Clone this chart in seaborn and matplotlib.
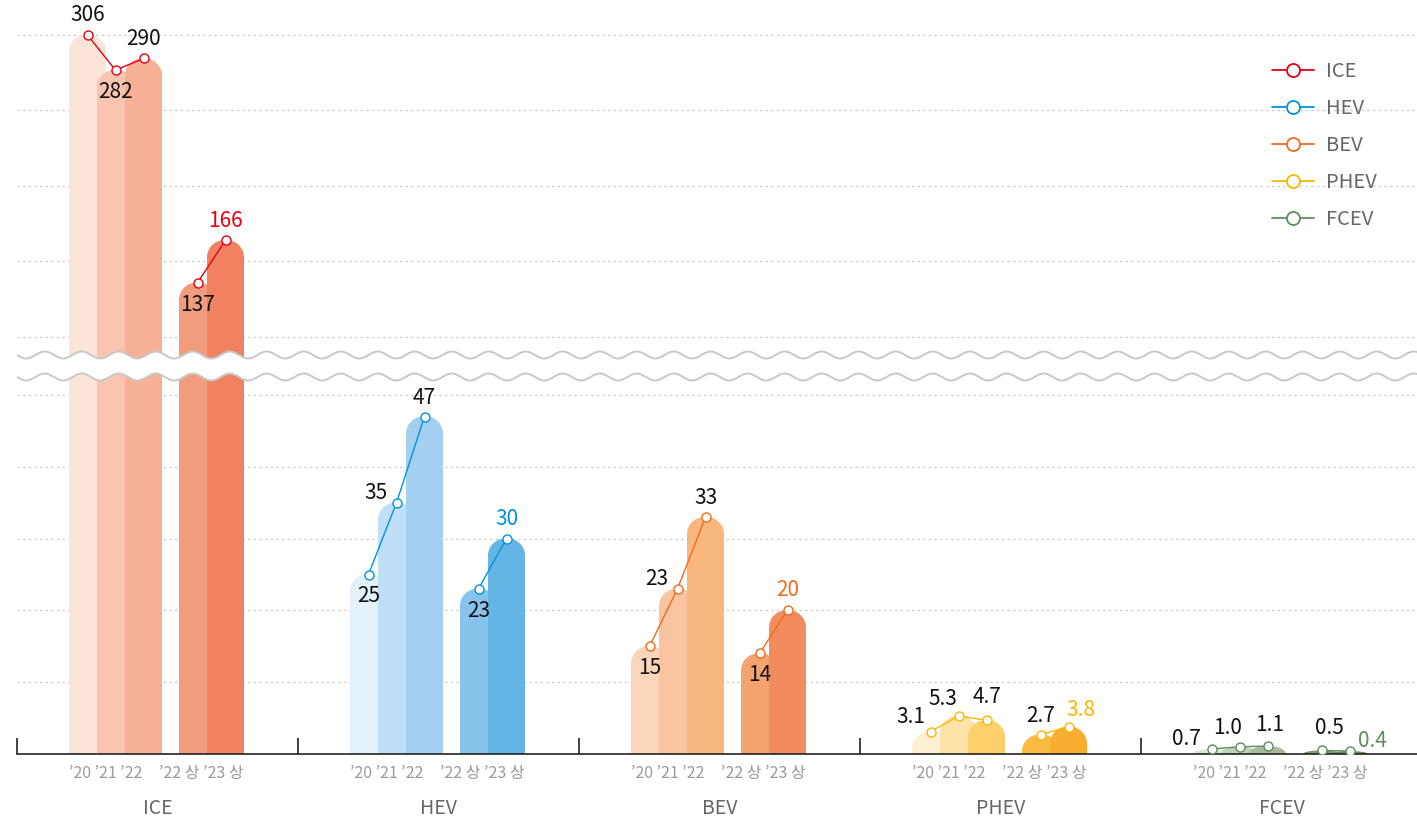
import numpy as np
import pandas as pd
import matplotlib
matplotlib.use("Agg")
import matplotlib.pyplot as plt
import seaborn as sns
from matplotlib.path import Path
from matplotlib.patches import PathPatch
from matplotlib.lines import Line2D

# ---------------- data ----------------
groups = ["ICE", "HEV", "BEV", "PHEV", "FCEV"]
periods = ["’20", "’21", "’22", "’22 상", "’23 상"]
ice = [306, 282, 290, 137, 166]
hev = [25, 35, 47, 23, 30]
bev = [15, 23, 33, 14, 20]
phev = [3.1, 5.3, 4.7, 2.7, 3.8]
fcev = [0.7, 1.0, 1.1, 0.5, 0.4]
cluster_labels = ["’20 ’21 ’22", "’22 상 ’23 상"]

# ---------------- styles ----------------
line_colors = ["#e60012", "#0095d9", "#ee6c1a", "#fbb700", "#5b8f5a"]
bar_colors = [
    ["#fde4d8", "#f9c5b0", "#f6b096", "#f29c7e", "#f08262"],
    ["#e3f1fb", "#bfdff6", "#a3cff0", "#88c3eb", "#64b4e4"],
    ["#fcd6bb", "#f9c49f", "#f8b77f", "#f5a46f", "#f28c5e"],
    ["#fdefd3", "#fde3a9", "#fdd06c", "#f9bb41", "#f7ad30"],
    ["#dfe6d9", "#c3cfba", "#a6b99b", "#7e9a72", "#6d8b61"],
]
# pixel offsets of bar centres from the group centre
bar_off_px = [-70, -42, -14, 40, 68]
# label offsets (pixels, y up) for each value label
label_off = [
    [(0, 20), (0, -22), (0, 19), (0, -22), (0, 19)],
    [(0, -22), (-21, 10), (0, 19), (0, -22), (0, 20)],
    [(0, -22), (-21, 10), (0, 19), (0, -22), (0, 20)],
    [(-20, 15), (-16, 17), (1, 23), (0, 19), (12, 17)],
    [(-25, 10), (-12, 19), (2, 21), (8, 22), (23, 10)],
]

sns.set_theme(style="white")
plt.rcParams["font.family"] = ["Noto Sans CJK KR", "DejaVu Sans"]

W, H = 1417, 826
GROUP_PX = 281
AX_LEFT, AX_W = 17, 1400
BASE_PX = 754
PX_PER_D = 7.18
BAR_W_PX = 37
R_PX = 17

# broken scale: 0-50 linear, 50-100 compressed gap, >100 compressed
GAP = 8.08
K_UP = 1.466 / PX_PER_D


def fwd(v):
    v = np.asarray(v, dtype=float)
    return np.where(v <= 50, v,
                    np.where(v <= 100, 50 + (v - 50) * GAP / 50,
                             50 + GAP + (v - 100) * K_UP))


def inv(d):
    d = np.asarray(d, dtype=float)
    return np.where(d <= 50, d,
                    np.where(d <= 50 + GAP, 50 + (d - 50) * 50 / GAP,
                             100 + (d - 50 - GAP) / K_UP))


YMAX = 326
AX_H = float(fwd(YMAX)) * PX_PER_D

fig = plt.figure(figsize=(W / 100, H / 100), dpi=100)
ax = fig.add_axes([AX_LEFT / W, (H - BASE_PX) / H, AX_W / W, AX_H / H])

series = [ice, hev, bev, phev, fcev]
rows = []
for gi, g in enumerate(groups):
    for pi, p in enumerate(periods):
        rows.append(dict(group=g, period=p, value=series[gi][pi],
                         x=gi + bar_off_px[pi] / GROUP_PX,
                         key=f"{g}|{p}", cluster=gi * 2 + (0 if pi < 3 else 1),
                         gi=gi, pi=pi))
df = pd.DataFrame(rows)
palette = {f"{g}|{p}": bar_colors[gi][pi]
           for gi, g in enumerate(groups) for pi, p in enumerate(periods)}

sns.barplot(data=df, x="x", y="value", hue="key", palette=palette,
            native_scale=True, dodge=False, orient="x", errorbar=None,
            saturation=1, legend=False, ax=ax, width=BAR_W_PX / 28)

ax.set_yscale("function", functions=(fwd, inv))
XMIN = -0.5
XMAX = -0.5 + AX_W / GROUP_PX
ax.set_xlim(XMIN, XMAX)
ax.set_ylim(0, YMAX)

# replace rectangles with rounded-top shapes (axes coordinates)
bars = []
for p in list(ax.patches):
    h = p.get_height()
    w = p.get_width()
    if not np.isfinite(h) or w <= 0:
        p.remove()
        continue
    bars.append((p.get_x() + w / 2, h, p.get_facecolor()))
    p.remove()
bars.sort(key=lambda b: b[0])

rx = R_PX / AX_W
ry_full = R_PX / AX_H
half_w = BAR_W_PX / 2 / AX_W
kk = 0.5523
for xc, h, fc in bars:
    xa = (xc - XMIN) / (XMAX - XMIN)
    x0, x1 = xa - half_w, xa + half_w
    y0 = 0.0
    y1 = float(fwd(h)) * PX_PER_D / AX_H
    ry = min(ry_full, y1 - y0)
    verts = [(x0, y0), (x0, y1 - ry),
             (x0, y1 - ry + kk * ry), (x0 + rx - kk * rx, y1), (x0 + rx, y1),
             (x1 - rx, y1),
             (x1 - rx + kk * rx, y1), (x1, y1 - ry + kk * ry), (x1, y1 - ry),
             (x1, y0), (x0, y0)]
    codes = [Path.MOVETO, Path.LINETO,
             Path.CURVE4, Path.CURVE4, Path.CURVE4,
             Path.LINETO,
             Path.CURVE4, Path.CURVE4, Path.CURVE4,
             Path.LINETO, Path.CLOSEPOLY]
    ax.add_patch(PathPatch(Path(verts, codes), transform=ax.transAxes,
                           facecolor=fc, edgecolor="none", zorder=2))

# grid
ax.set_yticks([10, 20, 30, 40, 50] + list(np.linspace(100, 306, 5)))
ax.yaxis.grid(True, color="#cfcfcf", linestyle=(0, (2, 2.5)), linewidth=0.9, zorder=0)
ax.xaxis.grid(False)
ax.set_axisbelow(True)
ax.tick_params(axis="y", left=False, labelleft=False)
for s in ["left", "right", "top"]:
    ax.spines[s].set_visible(False)
ax.spines["bottom"].set_color("#222222")
ax.spines["bottom"].set_linewidth(1.2)

# x ticks
major = []
labels = []
for gi in range(len(groups)):
    major += [gi + (-42 - 10) / GROUP_PX, gi + (54 - 10) / GROUP_PX]
    labels += cluster_labels
ax.set_xticks(major)
ax.set_xticklabels(labels, fontsize=11.5, color="#9a9a9a")
ax.tick_params(axis="x", which="major", length=0, pad=8)
ax.set_xticks([gi - 0.5 for gi in range(len(groups))], minor=True)
ax.tick_params(axis="x", which="minor", direction="in", length=11.5,
               width=1.2, color="#222222", bottom=True)

# group names
for gi, g in enumerate(groups):
    ax.text(gi, -(808 - BASE_PX) / AX_H, g, transform=ax.get_xaxis_transform(),
            ha="center", va="center", fontsize=14, color="#666666")

# lines with markers
for gi, g in enumerate(groups):
    sub = df[df.gi == gi]
    sns.lineplot(data=sub, x="x", y="value", units="cluster", estimator=None,
                 color=line_colors[gi], marker="o", markersize=6.5,
                 markerfacecolor="white", markeredgecolor=line_colors[gi],
                 markeredgewidth=1.0, linewidth=1.0, ax=ax, zorder=5,
                 legend=False)
    for _, r in sub.iterrows():
        pi = int(r.pi)
        val = r.value
        txt = f"{val:.1f}" if gi >= 3 else f"{int(val)}"
        col = line_colors[gi] if pi == 4 else "#111111"
        dx, dy = label_off[gi][pi]
        ax.annotate(txt, xy=(r.x, val), xytext=(dx, dy),
                    textcoords="offset pixels", ha="center", va="center",
                    fontsize=15, color=col, zorder=6)
ax.set_xlabel("")
ax.set_ylabel("")

# break waves
xs_px = np.linspace(0, AX_W, 1200)
wave = 3.5 * np.sin(2 * np.pi * xs_px / 37.0)
up_c, lo_c = 355, 377
yu = (BASE_PX - (up_c + wave)) / AX_H
yl = (BASE_PX - (lo_c + wave)) / AX_H
xa = xs_px / AX_W
ax.fill_between(xa, yl, yu, transform=ax.transAxes, color="white",
                zorder=3, linewidth=0)
ax.plot(xa, yu, transform=ax.transAxes, color="#c8c8c8", lw=1.4, zorder=3.5)
ax.plot(xa, yl, transform=ax.transAxes, color="#c8c8c8", lw=1.4, zorder=3.5)

# legend
handles = [Line2D([0], [0], color=c, marker="o", markersize=9.4,
                  markerfacecolor="white", markeredgecolor=c,
                  markeredgewidth=1.3, linewidth=1.3) for c in line_colors]
leg = fig.legend(handles, groups, loc="upper left",
                 bbox_to_anchor=(1272 / W, 1 - 61 / H),
                 bbox_transform=fig.transFigure, frameon=False,
                 fontsize=14.5, handlelength=2.1, handletextpad=0.6,
                 labelspacing=0.8, borderpad=0, borderaxespad=0)
for t in leg.get_texts():
    t.set_color("#666666")

fig.savefig("out.png", dpi=100)
